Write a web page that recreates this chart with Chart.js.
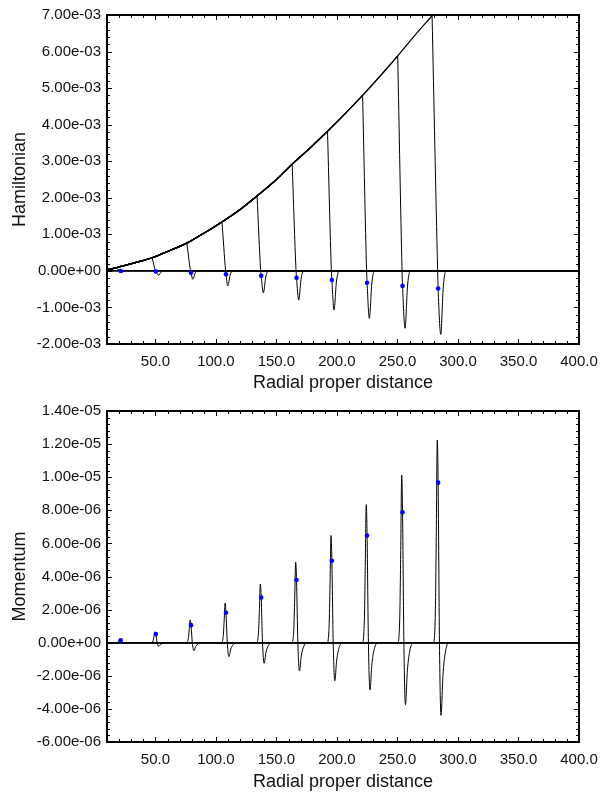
<!DOCTYPE html>
<html><head><meta charset="utf-8">
<script src="https://cdn.jsdelivr.net/npm/chart.js@4.4.1/dist/chart.umd.min.js"></script>
<style>
html,body{margin:0;padding:0;background:#fff;width:613px;height:793px;overflow:hidden;}
#top{position:absolute;left:0;top:0;}
#bot{position:absolute;left:0;top:396px;}
</style></head><body>
<canvas id="top" width="613" height="396"></canvas>
<canvas id="bot" width="613" height="397"></canvas>
<script>
// ---------------- data ----------------
const xTicks = [50, 100, 150, 200, 250, 300, 350, 400];
const hamYTicks = [-2e-3, -1e-3, 0, 1e-3, 2e-3, 3e-3, 4e-3, 5e-3, 6e-3, 7e-3];
const momYTicks = [-6e-6, -4e-6, -2e-6, 0, 2e-6, 4e-6, 6e-6, 8e-6, 10e-6, 12e-6, 14e-6];

// blue markers (pulse centres)
const pulseX  = [21.3, 50.3, 79.4, 108.3, 137.4, 166.6, 195.8, 224.9, 254.2, 283.6];
const hamDotY = [-0.005, -0.016, -0.054, -0.09, -0.136, -0.19, -0.25, -0.325, -0.41, -0.48]; // x1e-3
const momDotY = [0.14, 0.52, 1.06, 1.81, 2.73, 3.79, 4.95, 6.48, 7.88, 9.67];                // x1e-6

// Hamiltonian envelope (x1e-3)
const envelopeX = [10, 17.5, 25, 35, 47.3, 60, 76, 90, 105, 120, 134, 150, 163, 178, 192.2, 207, 221.2, 236, 250.2, 264, 278.6];
const envelopeY = [0.03, 0.085, 0.15, 0.24, 0.36, 0.53, 0.76, 1.03, 1.34, 1.68, 2.05, 2.50, 2.92, 3.37, 3.82, 4.31, 4.80, 5.34, 5.88, 6.43, 6.98];

// Hamiltonian pulse shapes after leaving the envelope: [x, y(x1e-3)]
const hamPulses = [
  [[17.5,0.085],[20.9,0],[21.3,-0.005],[22.6,-0.03],[24.0,-0.01],[25.0,-0.003],[26.5,0]],
  [[47.3,0.36],[50.0,0],[50.3,-0.016],[52.7,-0.12],[54.5,-0.04],[55.6,-0.01],[57.3,0]],
  [[76.0,0.76],[79.0,0],[79.4,-0.054],[80.9,-0.23],[82.7,-0.07],[83.8,-0.018],[85.6,0]],
  [[105.0,1.34],[108.0,0],[108.3,-0.09],[109.8,-0.41],[111.7,-0.12],[112.8,-0.03],[114.6,0]],
  [[134.0,2.05],[137.0,0],[137.4,-0.136],[139.2,-0.60],[141.1,-0.18],[142.2,-0.05],[144.0,0]],
  [[163.0,2.92],[166.2,0],[166.6,-0.19],[168.4,-0.80],[170.3,-0.24],[171.4,-0.06],[173.2,0]],
  [[192.2,3.82],[195.4,0],[195.8,-0.25],[197.6,-1.07],[199.5,-0.32],[200.6,-0.09],[202.4,0]],
  [[221.2,4.80],[224.5,0],[224.9,-0.325],[226.8,-1.30],[228.7,-0.39],[229.8,-0.10],[231.6,0]],
  [[250.2,5.88],[253.8,0],[254.2,-0.41],[256.3,-1.57],[258.2,-0.47],[259.3,-0.13],[261.1,0]],
  [[278.6,6.98],[283.2,0],[283.6,-0.48],[285.8,-1.74],[287.7,-0.52],[288.8,-0.14],[290.6,0]]
];

// Momentum pulse shapes: [x, y(x1e-6)]
const momPulses = [
  [[17.3,0],[19.0,0.03],[19.8,0.11],[20.6,0.20],[21.3,0.14],[22.4,0],[23.7,-0.03],[25.3,-0.013],[27.3,-0.004],[30.3,0]],
  [[46.3,0],[48.0,0.10],[48.8,0.36],[49.6,0.66],[50.3,0.52],[51.4,0],[52.7,-0.22],[54.3,-0.10],[56.3,-0.03],[59.3,0]],
  [[75.4,0],[77.1,0.21],[77.9,0.76],[78.7,1.38],[79.4,1.06],[80.5,0],[81.8,-0.48],[83.4,-0.22],[85.4,-0.06],[88.4,0]],
  [[104.3,0],[106.0,0.36],[106.8,1.31],[107.6,2.39],[108.3,1.81],[109.4,0],[110.7,-0.84],[112.3,-0.38],[114.3,-0.11],[117.3,0]],
  [[133.4,0],[135.1,0.53],[135.9,1.95],[136.7,3.55],[137.4,2.73],[138.5,0],[139.8,-1.24],[141.4,-0.56],[143.4,-0.16],[146.4,0]],
  [[162.6,0],[164.3,0.73],[165.1,2.68],[165.9,4.87],[166.6,3.79],[167.7,0],[169.0,-1.71],[170.6,-0.77],[172.6,-0.22],[175.6,0]],
  [[191.8,0],[193.5,0.97],[194.3,3.56],[195.1,6.48],[195.8,4.95],[196.9,0],[198.2,-2.31],[199.8,-1.04],[201.8,-0.30],[204.8,0]],
  [[220.9,0],[222.6,1.25],[223.4,4.59],[224.2,8.34],[224.9,6.48],[226.0,0],[227.3,-2.85],[228.9,-1.28],[230.9,-0.37],[233.9,0]],
  [[250.2,0],[251.9,1.52],[252.7,5.57],[253.5,10.13],[254.2,7.88],[255.3,0],[256.6,-3.75],[258.2,-1.69],[260.2,-0.49],[263.2,0]],
  [[279.6,0],[281.3,1.84],[282.1,6.73],[282.9,12.24],[283.6,9.67],[284.7,0],[286.0,-4.39],[287.6,-1.98],[289.6,-0.57],[292.6,0]]
];
const baseline = [[10,0],[400,0]];

const HAM_UNIT = 1e-3, MOM_UNIT = 1e-6;
const X_MIN = 10, X_MAX = 400;

// ---------------- helpers ----------------
const FONT = "'Liberation Sans', Arial, Helvetica, sans-serif";
function expLabel(v, step){
  if (Math.abs(v) < step*1e-6) v = 0;
  return v.toExponential(2).replace(/e([+-])(\d)$/, 'e$10$2');
}
const toPts = (arr, unit) => arr.map(p => ({x: p[0], y: p[1]*unit}));

// each Hamiltonian snapshot: rising part on the envelope + its pulse
function hamCurves(){
  const out = [];
  hamPulses.forEach(pulse => {
    const peakX = pulse[0][0];
    const env = [];
    envelopeX.forEach((x, i) => { if (x <= peakX) env.push([x, envelopeY[i]]); });
    out.push({pts: toPts(env, HAM_UNIT), w: 1.25});
    out.push({pts: toPts(pulse.concat([[X_MAX, 0]]), HAM_UNIT), w: 1});
  });
  return out;
}
function momCurves(){
  return momPulses.map(pulse => ({pts: toPts([[X_MIN, 0]].concat(pulse, [[X_MAX, 0]]), MOM_UNIT), w: 1}));
}

const framePlugin = {
  id: 'frame',
  afterDatasetsDraw(chart, args, opts){
    const {ctx, chartArea: a, scales: {x, y}} = chart;
    ctx.save();
    ctx.strokeStyle = '#000';
    ctx.lineWidth = 1;
    ctx.beginPath();
    const nx = Math.round((x.max - x.min) / opts.xMinor);
    for (let i = 0; i <= nx; i++){
      const v = x.min + i*opts.xMinor;
      const major = Math.round(v) % 50 === 0;
      const len = major ? 5 : 3;
      const px = Math.round(x.getPixelForValue(v)) + 0.5;
      ctx.moveTo(px, a.bottom); ctx.lineTo(px, a.bottom - len);
      ctx.moveTo(px, a.top); ctx.lineTo(px, a.top + len);
    }
    const ny = Math.round((y.max - y.min) / opts.yMinor);
    for (let i = 0; i <= ny; i++){
      const v = y.min + i*opts.yMinor;
      const major = i % opts.yPerMajor === 0;
      const len = major ? 5 : 3;
      const py = Math.round(y.getPixelForValue(v)) + 0.5;
      ctx.moveTo(a.left, py); ctx.lineTo(a.left + len, py);
      ctx.moveTo(a.right, py); ctx.lineTo(a.right - len, py);
    }
    ctx.stroke();
    ctx.lineWidth = 2;
    ctx.strokeRect(a.left, a.top, a.right - a.left, a.bottom - a.top);
    ctx.restore();
  }
};

function makeChart(id, curves, dotY, unit, yTicks, yMin, yMax, yTitle, yMinor, yStep, padTop, xAxisH, titlePadBottom){
  const dots = pulseX.map((x, i) => ({x, y: dotY[i]*unit}));
  const datasets = [
    {data: dots, showLine: false, pointRadius: 2.3, pointBorderWidth: 0, pointBackgroundColor: '#0000ff', pointBorderColor: '#0000ff'},
    {data: toPts(baseline, unit), showLine: true, borderColor: '#000', borderWidth: 1.6, pointRadius: 0}
  ].concat(curves.map(c => ({
    data: c.pts, showLine: true, borderColor: '#000', borderWidth: c.w, pointRadius: 0,
    cubicInterpolationMode: 'monotone'
  })));
  return new Chart(document.getElementById(id), {
    type: 'scatter',
    data: {datasets},
    plugins: [framePlugin],
    options: {
      responsive: false, animation: false, devicePixelRatio: 1,
      layout: {padding: {left: 0, right: 34, top: padTop, bottom: 0}},
      plugins: {legend: {display: false}, tooltip: {enabled: false},
        frame: {xMinor: 10, yMinor: yMinor, yPerMajor: 5}},
      scales: {
        x: {
          type: 'linear', min: X_MIN, max: X_MAX,
          afterBuildTicks: s => { s.ticks = xTicks.map(v => ({value: v})); },
          afterFit: s => { s.height = xAxisH; },
          grid: {display: false, drawTicks: false}, border: {display: false},
          ticks: {padding: 9, color: '#111', font: {family: FONT, size: 15},
                  maxRotation: 0, autoSkip: false, callback: v => Number(v).toFixed(1)},
          title: {display: true, text: 'Radial proper distance', color: '#111',
                  font: {family: FONT, size: 18}, padding: {top: 0, bottom: titlePadBottom}}
        },
        y: {
          type: 'linear', min: yMin, max: yMax,
          afterBuildTicks: s => { s.ticks = yTicks.map(v => ({value: v})); },
          afterFit: s => { s.width = 107; },
          grid: {display: false, drawTicks: false}, border: {display: false},
          ticks: {padding: 6, color: '#111', font: {family: FONT, size: 15},
                  autoSkip: false, callback: v => expLabel(v, yStep)},
          title: {display: true, text: yTitle, color: '#111',
                  font: {family: FONT, size: 18}, padding: {top: 9, bottom: 0}}
        }
      }
    }
  });
}

makeChart('top', hamCurves(), hamDotY, HAM_UNIT, hamYTicks, -2e-3, 7e-3, 'Hamiltonian', 0.2e-3, 1e-3, 12, 52, 2);
makeChart('bot', momCurves(), momDotY, MOM_UNIT, momYTicks, -6e-6, 14e-6, 'Momentum', 0.4e-6, 2e-6, 12, 51, 0);
</script>
</body></html>
